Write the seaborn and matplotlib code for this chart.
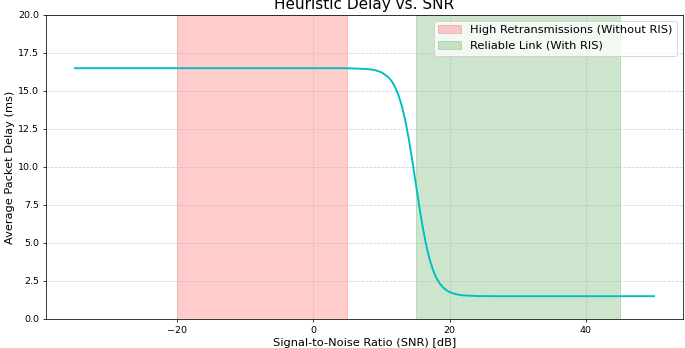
import matplotlib
matplotlib.use("Agg")
import matplotlib.pyplot as plt
import seaborn as sns
import pandas as pd

# SNR (dB) vs average packet delay (ms)
snr = [-35, -20, 0, 5, 8, 9, 10, 11, 11.5, 12, 12.5, 13, 13.5, 14, 14.5, 15,
       15.5, 16, 16.5, 17, 17.5, 18, 18.5, 19, 19.5, 20, 21, 22, 24, 27, 30, 40, 50]
delay = [16.5, 16.5, 16.5, 16.5, 16.44, 16.38, 16.23, 15.91, 15.64, 15.25, 14.71,
         13.98, 13.03, 11.85, 10.48, 9.0, 7.52, 6.15, 4.97, 4.02, 3.29, 2.75,
         2.36, 2.09, 1.90, 1.77, 1.62, 1.555, 1.51, 1.5, 1.5, 1.5, 1.5]

bad_zone = (-20, 5)
good_zone = (15, 45)
bad_label = "High Retransmissions (Without RIS)"
good_label = "Reliable Link (With RIS)"

df = pd.DataFrame({"SNR": snr, "Delay": delay})

fig = plt.figure(figsize=(10, 348 / 68.5), dpi=68.5)
ax = fig.add_axes([46 / 685, 29 / 348, 637 / 685, 304 / 348])

ax.axvspan(*bad_zone, color="red", alpha=0.2, label=bad_label)
ax.axvspan(*good_zone, color="green", alpha=0.2, label=good_label)
sns.lineplot(data=df, x="SNR", y="Delay", color="c", linewidth=2, ax=ax)

ax.set_ylim(0, 20)
ax.set_title("Heuristic Delay vs. SNR", fontsize=16)
ax.set_xlabel("Signal-to-Noise Ratio (SNR) [dB]", fontsize=12)
ax.set_ylabel("Average Packet Delay (ms)", fontsize=12)
ax.grid(True, linestyle="--", alpha=0.6)
ax.legend(loc="upper right", fontsize=12)

fig.savefig("out.png", dpi=68.5)
